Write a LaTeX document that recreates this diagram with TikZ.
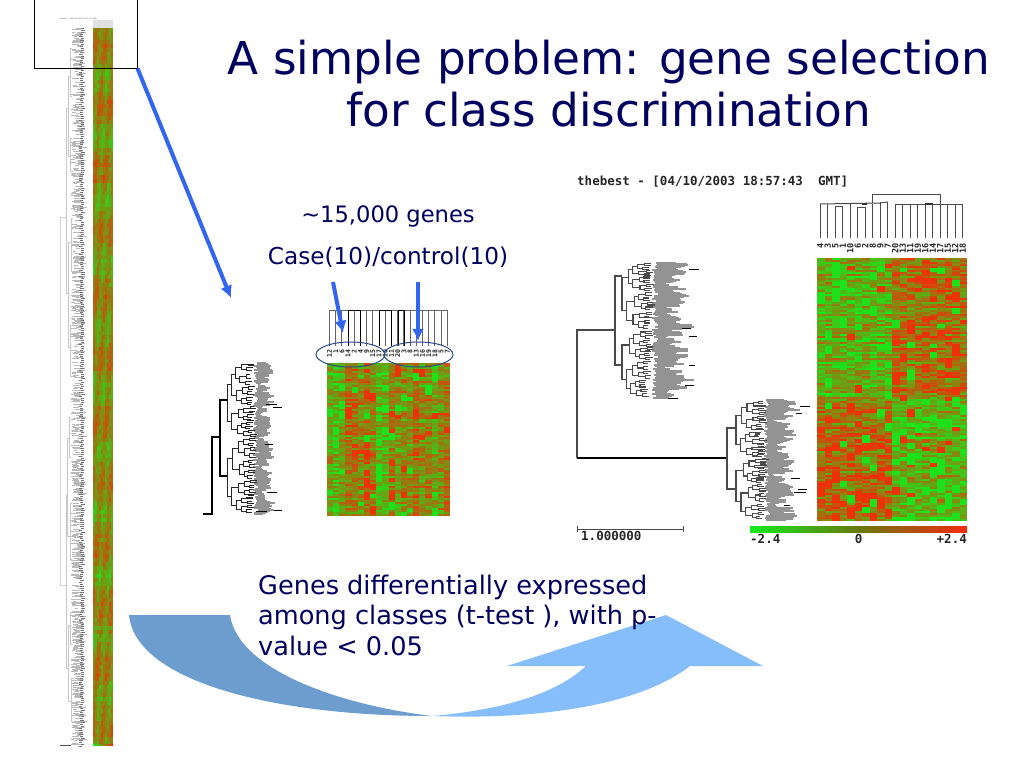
\documentclass[tikz,border=0pt]{standalone}
\usepackage{fontspec}
\usepackage{xcolor}
\setmainfont{DejaVu Sans}
\newfontfamily\scanfont{DejaVu Sans Mono}
\usetikzlibrary{positioning, calc, arrows.meta, shapes.geometric}
\definecolor{slidenavy}{HTML}{000060}
\definecolor{pointerblue}{HTML}{3366F0}
\definecolor{ovalblue}{HTML}{2A4A8C}
\definecolor{heatred}{HTML}{F52A08}
\definecolor{heatgreen}{HTML}{14EA1C}
\definecolor{swooshdark}{HTML}{6D9DCF}
\definecolor{swooshlight}{HTML}{85BEFB}
\definecolor{treegray}{HTML}{4A4A4A}
\tikzset{
  pointer/.style={line width=4pt,pointerblue,-{Latex[length=4.3mm,width=4.3mm]}},
  branchline/.style={line width=1.1pt,treegray},
  leafline/.style={line width=1pt,treegray},
  slidetext/.style={text=slidenavy,inner sep=0pt},
  scantext/.style={font=\scanfont\bfseries\fontsize{12.5}{14}\selectfont,text=black!85,inner sep=0pt},
  collabel/.style={rotate=90,anchor=east,inner sep=0pt,text=black!85},
}
\newcommand{\heatmap}[9]{%
  \pgfmathtruncatemacro{\lastcol}{#3-1}%
  \pgfmathtruncatemacro{\lastrow}{#4-1}%
  \foreach \hrow in {0,...,\lastrow}{%
    \pgfmathsetmacro{\rowshift}{#7*0.5*(rnd-0.5)}%
    \pgfmathsetmacro{\celly}{#2+\hrow*#6}%
    \foreach \hcol in {0,...,\lastcol}{%
      \pgfmathsetmacro{\cellt}{max(0,min(100,50+\rowshift+#7*(rnd-0.5)+#8))}%
      \pgfmathsetmacro{\cellx}{#1+\hcol*#5}%
      \fill[heatred!\cellt!heatgreen] (\cellx,\celly) rectangle ++(#5+0.2,#6+0.2);
    }%
  }%
  \ifnum#9>0
  \foreach \hn in {1,...,#9}{%
    \pgfmathtruncatemacro{\hcol}{rnd*#3}%
    \pgfmathtruncatemacro{\hrow}{rnd*#4}%
    \pgfmathsetmacro{\blockh}{#6*(2+int(rnd*3))}%
    \pgfmathsetmacro{\blockt}{(rnd-0.5)*60+#8>0?96:4}%
    \pgfmathsetmacro{\cellx}{#1+\hcol*#5}%
    \pgfmathsetmacro{\celly}{min(#2+\hrow*#6,#2+#4*#6-\blockh)}%
    \fill[heatred!\blockt!heatgreen] (\cellx,\celly) rectangle ++(#5,\blockh);
  }%
  \fi
}
\newcommand{\treebranch}[6][branchline]{%
  \ifnum#5>0
  \begingroup
    \pgfmathsetmacro{\xroot}{#2}%
    \pgfmathsetmacro{\ytop}{#3}%
    \pgfmathsetmacro{\ybot}{#4}%
    \pgfmathsetmacro{\ymid}{\ytop+(\ybot-\ytop)*(0.4+0.2*rnd)}%
    \pgfmathsetmacro{\ya}{(\ytop+\ymid)/2}%
    \pgfmathsetmacro{\yb}{(\ymid+\ybot)/2}%
    \pgfmathsetmacro{\xa}{\xroot+#6*(0.7+0.6*rnd)}%
    \pgfmathsetmacro{\xb}{\xroot+#6*(0.7+0.6*rnd)}%
    \pgfmathtruncatemacro{\nextdepth}{#5-1}%
    \draw[#1] (\xa,\ya) -- (\xroot,\ya) -- (\xroot,\yb) -- (\xb,\yb);
    \treebranch[#1]{\xa}{\ytop}{\ymid}{\nextdepth}{#6}%
    \treebranch[#1]{\xb}{\ymid}{\ybot}{\nextdepth}{#6}%
  \endgroup
  \fi
}
\newcommand{\genefan}[5]{%
  \pgfmathsetmacro{\fanlast}{int((#4-#3)/#5)}%
  \foreach \fn in {0,...,\fanlast}{%
    \pgfmathsetmacro{\fany}{#3+\fn*#5}%
    \pgfmathsetmacro{\fanb}{#1+(#2-#1)*(0.38+0.12*sin(\fn*13)+0.1*sin(\fn*47)+0.28*rnd*rnd+0.3*rnd*rnd*rnd*rnd*rnd*rnd)}%
    \pgfmathsetmacro{\fana}{#1+7*rnd}%
    \draw[gray!85,line width=#5*1.1] (\fana,\fany) -- (\fanb,\fany);
  }%
  \foreach \fn in {1,...,6}{%
    \pgfmathsetmacro{\fany}{#3+rnd*(#4-#3)}%
    \pgfmathsetmacro{\fanb}{#1+(#2-#1)*(0.4+0.6*rnd)}%
    \pgfmathsetmacro{\fana}{\fanb-6-6*rnd}%
    \draw[black,line width=0.8pt] (\fana,\fany) -- (\fanb,\fany);
  }%
}
\begin{document}
\begin{tikzpicture}[x=1pt,y=-1pt]
      \useasboundingbox (0,0) rectangle (1024,768);
      \pgfmathsetseed{2003}
      \fill[swooshdark] (129,615) -- (230,615) .. controls (238,670) and (340,705) .. (432,716) .. controls (270,716) and (135,680) .. (129,615) -- cycle;
      \fill[swooshlight] (432,716) .. controls (500,710) and (555,695) .. (586,666) -- (507,666) -- (666,615) -- (763,666) -- (690,666) .. controls (640,705) and (540,720) .. (432,716) -- cycle;
      \fill[black!12] (93,20) rectangle (113,28);
      \heatmap{93}{28}{10}{180}{2}{3.984}{26}{14*sin(\hcol*75+\hrow*11)+12*sin(\hrow*23)}{0}
      \fill[left color=heatgreen,right color=heatred] (93,744.5) rectangle (113,745.5);
      \foreach \fn in {1,...,800}{
        \pgfmathsetmacro{\fany}{28+rnd*717}
        \pgfmathsetmacro{\fana}{71+rnd*7}
        \pgfmathsetmacro{\fanlen}{3+rnd*6}
        \draw[gray!55,line width=0.35pt] (\fana,\fany) -- ++(\fanlen,0);
      }
      \foreach \fn in {1,...,360}{
        \pgfmathsetmacro{\fany}{28+(\fn-1)*2}
        \pgfmathsetmacro{\fana}{79+rnd*2.5}
        \draw[black!55,line width=0.5pt] (\fana,\fany) -- ++(3.2,0);
      }
      \draw[black!18,line width=0.5pt] (66,217) -- (60,217) -- (60,585) -- (66,585);
      \treebranch[{black!22,line width=0.4pt}]{66}{28}{398}{3}{2.2}
      \treebranch[{black!22,line width=0.4pt}]{66}{398}{745}{3}{2.2}
      \fill[black!70] (60,744.5) rectangle (71,745.5);
      \node[font=\scanfont\bfseries\fontsize{1.75}{2}\selectfont,text=black!55,inner sep=0pt] (thumbtitle) at (78.5,18.5) {thebest - [04/10/2003 18:57:43~~GMT]};
      \genefan{253}{283}{363}{514}{1}
      \draw[branchline,black] (203,514) -- (212,514) -- (212,437) -- (220,437);
      \draw[branchline,black] (227,400) -- (220,400) -- (220,476) -- (227,476);
      \treebranch[{line width=1pt,black!85}]{227}{363}{437}{5}{5.4}
      \treebranch[{line width=1pt,black!85}]{227}{437}{514}{5}{5.4}
      \heatmap{327}{363}{20}{77}{6.15}{1.987}{55}{{-14,-24,-8,12,12,-4,14,6,-22,-18,8,-8,-4,-8,14,-4,6,-16,4,10}[\hcol]}{70}
      \foreach \leafi in {0,...,19}{
        \draw[leafline,gray!80!black] ({329.5+\leafi*6.2},310) -- ++(0,36);
      }
      \draw[leafline,gray!80!black] (329.5,310) -- (447.5,310);
      \foreach \leafa/\leafb in {348/360,379/391,398/404}{
        \draw[leafline,black] (\leafa,346) -- (\leafa,310) -- (\leafb,310) -- (\leafb,346);
      }
      \genefan{652}{708}{263}{398}{1}
      \draw[branchline] (577,458) -- (577,330) -- (615,330);
      \draw[branchline] (622,276) -- (615,276) -- (615,365) -- (622,365);
      \treebranch{622}{263}{330}{5}{5.8}
      \treebranch{622}{330}{398}{5}{5.8}
      \genefan{764}{811}{400}{520}{1}
      \draw[branchline,black] (577,458) -- (727,458);
      \draw[branchline] (736,428) -- (727,428) -- (727,489) -- (736,489);
      \treebranch{736}{400}{458}{5}{5.6}
      \treebranch{736}{458}{520}{5}{5.6}
      \heatmap{817}{258}{20}{131}{7.5}{2.008}{62}{(\hcol<10?-1:1)*(\hrow<69?1:-1)*16}{190}
      \foreach \leafi/\leaftop in {0/204,1/204,2/206,3/206,4/204,5/207,6/207,7/204,8/202,9/202,10/204,11/204,12/204,13/204,14/204,15/204,16/203,17/205,18/205,19/204}{
        \draw[leafline] ({820+\leafi*7.5},238) -- ({820+\leafi*7.5},\leaftop);
      }
      \draw[leafline] (820,204) -- (880,203) -- (888,202);
      \draw[leafline] (835,206) -- (843,206);
      \draw[leafline] (858,207) -- (865.5,207);
      \draw[leafline] (895,204) -- (962.5,204);
      \draw[line width=2pt,black!80] (862,203.5) -- (867,203.5);
      \draw[line width=2pt,black!80] (925,203.5) -- (933,203.5);
      \draw[leafline] (872,203) -- (872,194.5) -- (940,194.5) -- (940,204);
      \foreach \leafi/\gene in {0/4,1/3,2/5,3/1,4/10,5/6,6/2,7/8,8/9,9/7,10/20,11/13,12/11,13/19,14/16,15/14,16/17,17/15,18/12,19/18}{
        \node[collabel,font=\scanfont\bfseries\fontsize{8.5}{9}\selectfont] (biglabel\leafi) at ({820.3+\leafi*7.5},243) {\gene};
      }
      \foreach \leafi/\gene in {0/12,1/1,2/6,3/14,4/2,5/4,6/9,7/15,8/17,9/10,10/11,11/20,12/3,13/8,14/13,15/16,16/19,17/18,18/5,19/7}{
        \node[collabel,font=\scanfont\bfseries\fontsize{6.5}{7}\selectfont] (smalllabel\leafi) at ({329.5+\leafi*6.2},349) {\gene};
      }
      \node[ellipse,draw=ovalblue,line width=1pt,minimum width=69pt,minimum height=25pt,inner sep=0pt] (caseoval) at (350.5,354.5) {};
      \node[ellipse,draw=ovalblue,line width=1pt,minimum width=69pt,minimum height=25pt,inner sep=0pt] (controloval) at (418.5,354.5) {};
      \coordinate (casestart) at (333,282);
      \coordinate (caseend) at (343,333);
      \coordinate (controlstart) at (418,282);
      \coordinate (controlend) at (418,341);
      \draw[pointer] (casestart) -- (caseend);
      \draw[pointer] (controlstart) -- (controlend);
      \node[draw=black,line width=1pt,minimum width=103pt,minimum height=68pt,inner sep=0pt] (zoombox) at (85.5,34) {};
      \coordinate (zoomend) at (231,298);
      \draw[pointer] (zoombox.south east) -- (zoomend);
      \node[scantext,anchor=west] (plottitle) at (577,182) {thebest - [04/10/2003 18:57:43~~GMT]};
      \coordinate (scaleleft) at (577,529);
      \coordinate (scaleright) at (683,529);
      \draw[treegray,line width=0.9pt] ($(scaleleft)+(0,-3)$) -- ($(scaleleft)+(0,3)$);
      \draw[treegray,line width=0.9pt] ($(scaleright)+(0,-3)$) -- ($(scaleright)+(0,3)$);
      \draw[treegray,line width=0.9pt] (scaleleft) -- (scaleright);
      \node[scantext,anchor=west] (scalelabel) at (581,535.5) {1.000000};
      \fill[left color=heatgreen,right color=black!30!heatred!55!heatgreen] (750,526.5) rectangle (858,532);
      \fill[left color=black!30!heatred!55!heatgreen,right color=heatred] (858,526.5) rectangle (967,532);
      \node[scantext,anchor=west] (barmin) at (750,538.5) {-2.4};
      \node[scantext] (barmid) at (858.5,538.5) {0};
      \node[scantext,anchor=east] (barmax) at (967,538.5) {+2.4};
      \node[slidetext,align=center,font=\fontsize{45.3}{52}\selectfont] (slidetitle) at (609,84) {A simple problem: gene selection\\for class discrimination};
      \node[slidetext,font=\fontsize{22.6}{26}\selectfont] (genecount) at (388,216) {\char`\~15,000 genes};
      \node[slidetext,font=\fontsize{23.2}{26}\selectfont] (groupcount) at (388,257) {Case(10)/control(10)};
      \node[slidetext,anchor=north west,align=left,font=\fontsize{25.6}{30.7}\selectfont] (ttestnote) at (258,574.5) {Genes differentially expressed\\among classes (t-test ), with p-\\value < 0.05};
    \end{tikzpicture}
\end{document}
